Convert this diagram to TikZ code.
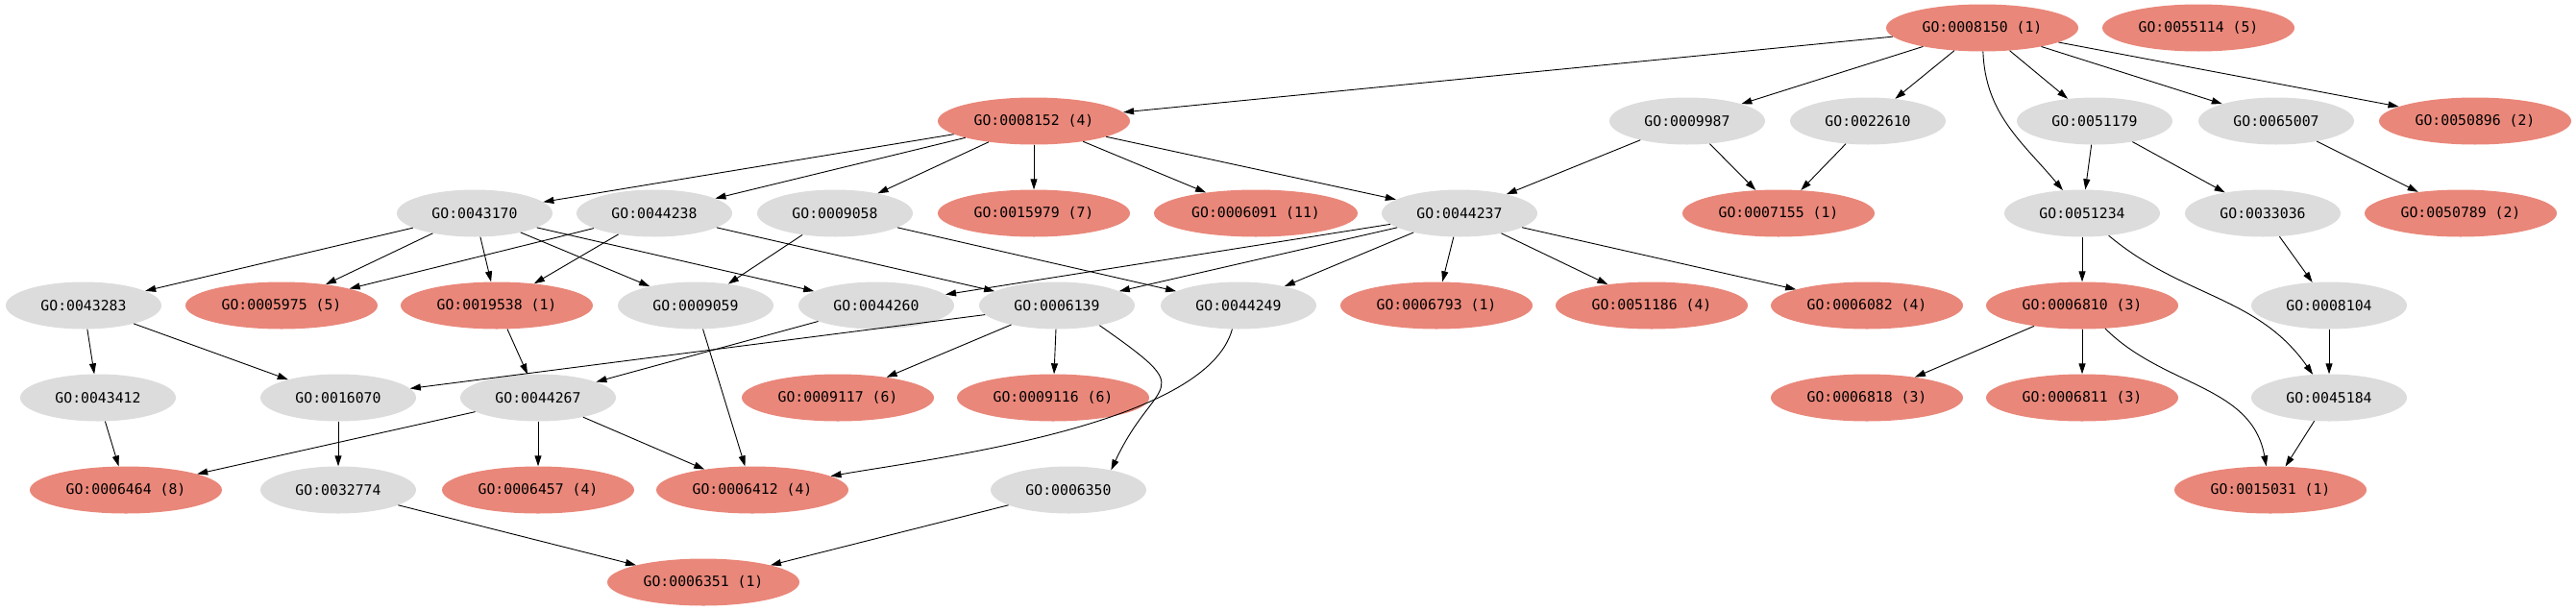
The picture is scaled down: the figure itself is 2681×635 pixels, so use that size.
\documentclass[tikz,border=0pt]{standalone}
\usepackage{fontspec}
\newfontfamily\gofont{DejaVu Sans Mono}
\usepackage{tikz}
\usetikzlibrary{shapes.geometric,arrows.meta}
\definecolor{gogray}{RGB}{220,220,220}
\definecolor{gored}{RGB}{233,135,122}

\begin{document}
\begin{tikzpicture}[x=1pt,y=1pt,
  term/.style={ellipse,fill=gogray,inner sep=0pt,minimum width=162pt,minimum height=49pt,
    font={\gofont\fontsize{14.8}{15}\selectfont}},
  hit/.style={term,fill=gored,minimum width=200pt},
  edge/.style={-{Triangle[length=11pt,width=7pt]},line width=0.9pt}]
\useasboundingbox (0,0) rectangle (2681,-635);
% row 0
\node[hit] (n8150) at (2063,-29) {GO:0008150 (1)};
\node[hit] (n55114) at (2288,-29) {GO:0055114 (5)};
% row 1
\node[hit] (n8152) at (1076,-126) {GO:0008152 (4)};
\node[term] (n9987) at (1756,-126) {GO:0009987};
\node[term] (n22610) at (1944,-126) {GO:0022610};
\node[term] (n51179) at (2180,-126) {GO:0051179};
\node[term] (n65007) at (2369,-126) {GO:0065007};
\node[hit] (n50896) at (2576,-126) {GO:0050896 (2)};
% row 2
\node[term] (n43170) at (494,-222) {GO:0043170};
\node[term] (n44238) at (681,-222) {GO:0044238};
\node[term] (n9058) at (869,-222) {GO:0009058};
\node[hit] (n15979) at (1076,-222) {GO:0015979 (7)};
\node[hit,minimum width=212pt] (n6091) at (1307,-222) {GO:0006091 (11)};
\node[term] (n44237) at (1519,-222) {GO:0044237};
\node[hit] (n7155) at (1851,-222) {GO:0007155 (1)};
\node[term] (n51234) at (2167,-222) {GO:0051234};
\node[term] (n33036) at (2355,-222) {GO:0033036};
\node[hit] (n50789) at (2561,-222) {GO:0050789 (2)};
% row 3
\node[term] (n43283) at (87,-318) {GO:0043283};
\node[hit] (n5975) at (293,-318) {GO:0005975 (5)};
\node[hit] (n19538) at (517,-318) {GO:0019538 (1)};
\node[term] (n9059) at (724,-318) {GO:0009059};
\node[term] (n44260) at (912,-318) {GO:0044260};
\node[term] (n6139) at (1100,-318) {GO:0006139};
\node[term] (n44249) at (1289,-318) {GO:0044249};
\node[hit] (n6793) at (1495,-318) {GO:0006793 (1)};
\node[hit] (n51186) at (1719,-318) {GO:0051186 (4)};
\node[hit] (n6082) at (1943,-318) {GO:0006082 (4)};
\node[hit] (n6810) at (2167,-318) {GO:0006810 (3)};
\node[term] (n8104) at (2424,-318) {GO:0008104};
% row 4
\node[term] (n43412) at (102,-414) {GO:0043412};
\node[term] (n16070) at (352,-414) {GO:0016070};
\node[term] (n44267) at (560,-414) {GO:0044267};
\node[hit] (n9117) at (872,-414) {GO:0009117 (6)};
\node[hit] (n9116) at (1096,-414) {GO:0009116 (6)};
\node[hit] (n6818) at (1943,-414) {GO:0006818 (3)};
\node[hit] (n6811) at (2167,-414) {GO:0006811 (3)};
\node[term] (n45184) at (2424,-414) {GO:0045184};
% row 5
\node[hit] (n6464) at (131,-510) {GO:0006464 (8)};
\node[term] (n32774) at (352,-510) {GO:0032774};
\node[hit] (n6457) at (560,-510) {GO:0006457 (4)};
\node[hit] (n6412) at (783,-510) {GO:0006412 (4)};
\node[term] (n6350) at (1112,-510) {GO:0006350};
\node[hit] (n15031) at (2363,-510) {GO:0015031 (1)};
% row 6
\node[hit] (n6351) at (732,-606) {GO:0006351 (1)};
% straight edges
\foreach \a/\b in {n8150/n8152,n8150/n9987,n8150/n22610,n8150/n51179,n8150/n65007,n8150/n50896,
  n8152/n43170,n8152/n44238,n8152/n9058,n8152/n15979,n8152/n6091,n8152/n44237,
  n9987/n44237,n9987/n7155,n22610/n7155,n51179/n51234,n51179/n33036,n65007/n50789,
  n43170/n43283,n43170/n5975,n43170/n19538,n43170/n9059,n43170/n44260,
  n44238/n5975,n44238/n19538,n44238/n6139,n9058/n9059,n9058/n44249,
  n44237/n44260,n44237/n6139,n44237/n44249,n44237/n6793,n44237/n51186,n44237/n6082,
  n51234/n6810,n33036/n8104,n43283/n43412,n43283/n16070,n19538/n44267,n9059/n6412,
  n44260/n44267,n6139/n16070,n6139/n9117,n6139/n9116,n6810/n6818,n6810/n6811,
  n8104/n45184,n43412/n6464,n16070/n32774,n44267/n6464,n44267/n6457,n44267/n6412,
  n32774/n6351,n6350/n6351,n45184/n15031}
  \draw[edge] (\a) -- (\b);
% curved edges
\draw[edge] (n8150) to[out=-88,in=130] (n51234);
\draw[edge] (n51234) to[out=-40,in=125] (n45184);
\draw[edge] (n6810) to[out=-45,in=100] (n15031);
\draw[edge] (n6139.-25) .. controls +(-35:130) and +(65:110) .. (n6350.25);
\draw[edge] (n44249) to[out=-105,in=10,looseness=0.6] (n6412);
\end{tikzpicture}
\end{document}
